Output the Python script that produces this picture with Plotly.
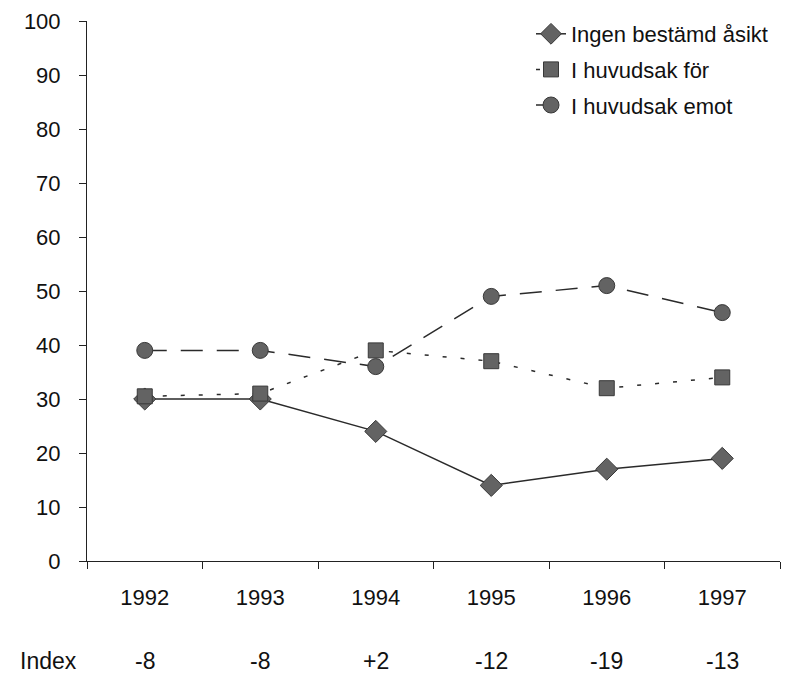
import plotly.graph_objects as go

years = ["1992", "1993", "1994", "1995", "1996", "1997"]
ingen = [30, 30, 24, 14, 17, 19]
for_ = [30.5, 31, 39, 37, 32, 34]
emot = [39, 39, 36, 49, 51, 46]
index_labels = ["-8", "-8", "+2", "-12", "-19", "-13"]
y_ticks = [0, 10, 20, 30, 40, 50, 60, 70, 80, 90, 100]

FONT = "Liberation Sans, Arial, sans-serif"
LINE_C = "#2a2a2a"
FILL_C = "#636363"
EDGE_C = "#383838"

fig = go.Figure()
fig.add_trace(go.Scatter(
    x=years, y=ingen, name="Ingen bestämd åsikt", mode="lines+markers", legendgroup="a",
    line=dict(color=LINE_C, width=1.5, dash="solid"),
    marker=dict(symbol="diamond", size=17, color=FILL_C, line=dict(color=EDGE_C, width=1)),
))
fig.add_trace(go.Scatter(
    x=years, y=for_, name="I huvudsak för", mode="lines+markers", legendgroup="b",
    line=dict(color=LINE_C, width=1.5, dash="4px,14px"),
    marker=dict(symbol="square", size=15, color=FILL_C, line=dict(color=EDGE_C, width=1)),
))
fig.add_trace(go.Scatter(
    x=years, y=emot, name="I huvudsak emot", mode="lines+markers", legendgroup="c",
    line=dict(color=LINE_C, width=1.5, dash="22px,14px"),
    marker=dict(symbol="circle", size=16, color=FILL_C, line=dict(color=EDGE_C, width=1)),
))

PLOT_L, PLOT_R, PLOT_T, PLOT_B = 87, 780, 21, 561
PW, PH = PLOT_R - PLOT_L, PLOT_B - PLOT_T

annotations = [dict(
    text="Index", xref="paper", yref="paper", x=(48 - PLOT_L) / PW, y=(PLOT_B - 661) / PH,
    xanchor="center", yanchor="middle", showarrow=False,
    font=dict(family=FONT, size=23, color="#111"),
)]
for i, lab in enumerate(index_labels):
    annotations.append(dict(
        text=lab, xref="x", yref="paper", x=i, y=(PLOT_B - 661) / PH,
        xanchor="center", yanchor="middle", showarrow=False,
        font=dict(family=FONT, size=23, color="#111"),
    ))

fig.update_layout(
    width=790, height=674,
    margin=dict(l=PLOT_L, r=790 - PLOT_R, t=PLOT_T, b=674 - PLOT_B),
    paper_bgcolor="white", plot_bgcolor="white",
    font=dict(family=FONT, size=22, color="#111"),
    showlegend=True,
    legend=dict(
        x=(531 - PLOT_L) / PW, y=(PLOT_B - 13) / PH, xanchor="left", yanchor="top",
        font=dict(family=FONT, size=22, color="#111"),
        bgcolor="rgba(0,0,0,0)", borderwidth=0,
        tracegroupgap=4,
    ),
    xaxis=dict(
        type="category", tickson="boundaries", range=[-0.5, 5.5],
        showline=True, linecolor="#222", linewidth=1,
        ticks="outside", ticklen=7, tickcolor="#222", tickwidth=1,
        showgrid=False, zeroline=False,
        tickfont=dict(family=FONT, size=22, color="#111"),
        ticklabelstandoff=17,
    ),
    yaxis=dict(
        range=[0, 100], tickvals=y_ticks,
        showline=True, linecolor="#222", linewidth=1,
        ticks="outside", ticklen=7, tickcolor="#222", tickwidth=1,
        showgrid=False, zeroline=False,
        tickfont=dict(family=FONT, size=22, color="#111"),
        ticklabelstandoff=14,
    ),
    annotations=annotations,
)

fig.write_html(
    "out.html",
    config={"displayModeBar": False},
    post_script="document.body.style.margin='0';document.body.style.padding='0';",
)
